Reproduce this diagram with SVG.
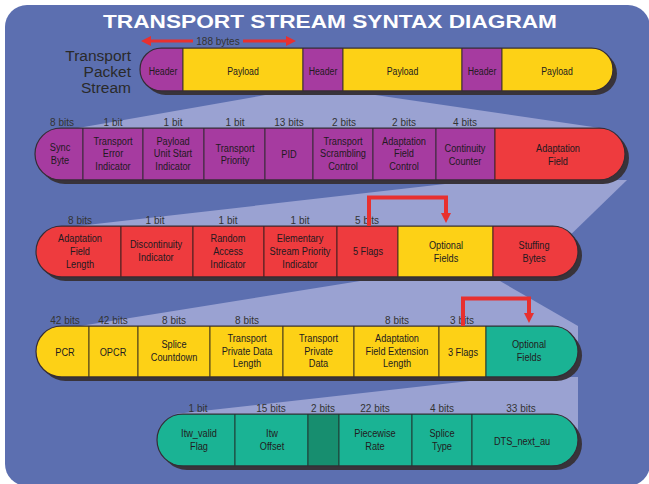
<svg xmlns="http://www.w3.org/2000/svg" width="649" height="484" viewBox="0 0 649 484">
<defs>
<style>
.bg{fill:#5c6fb0}
.fun{fill:#9aa2d2}
.sh{fill:#38333a}
.pu{fill:#a63ba0;stroke:#3a2a3a;stroke-width:1}
.ye{fill:#fdd116;stroke:#4a3f1a;stroke-width:1}
.re{fill:#ee3b3e;stroke:#4a2020;stroke-width:1}
.te{fill:#1ab394;stroke:#1f3f36;stroke-width:1}
.td{fill:#178e6f;stroke:#1f3f36;stroke-width:1}
.ol{fill:none;stroke:#352c35;stroke-width:1.2}
.c{font-family:"Liberation Sans",Arial,sans-serif;font-size:11.5px;fill:#221a20;text-anchor:middle}
.b{font-family:"Liberation Sans",Arial,sans-serif;font-size:10px;fill:#333;text-anchor:middle}
.lbl{font-family:"Liberation Sans",Arial,sans-serif;font-size:15.5px;fill:#2a2a2a;text-anchor:end}
.title{font-family:"Liberation Sans",Arial,sans-serif;font-size:19px;font-weight:bold;fill:#fff}
.ar{fill:none;stroke:#e8302f;stroke-width:4}
.ar3{fill:none;stroke:#e8302f;stroke-width:3}
</style>
<marker id="ah" viewBox="0 0 10 10" refX="0" refY="5" markerWidth="11" markerHeight="10" markerUnits="userSpaceOnUse" orient="auto"><path d="M0,0 L10,5 L0,10 z" fill="#e8302f"/></marker>
<clipPath id="r1"><rect x="140" y="48" width="473" height="43" rx="21.5"/></clipPath>
<clipPath id="r2"><rect x="35" y="128" width="590" height="52" rx="26"/></clipPath>
<clipPath id="r3"><rect x="36" y="226" width="542" height="51" rx="25.5"/></clipPath>
<clipPath id="r4"><rect x="36" y="326" width="542" height="51" rx="25.5"/></clipPath>
<clipPath id="r5"><rect x="157" y="414" width="421" height="52" rx="26"/></clipPath>
</defs>

<rect class="bg" x="5" y="5" width="645" height="481" rx="22"/>

<g id="funnels">
<polygon class="fun" points="288,91 348,91 600,128 78,128"/>
<polygon class="fun" points="480,180 627,180 560,245 78,226"/>
<polygon class="fun" points="385,277 493,277 578,326 578,350 80,326"/>
<polygon class="fun" points="505,377 578,377 578,440 175,414"/>
</g>

<text class="title" x="103" y="28" textLength="454" lengthAdjust="spacingAndGlyphs">TRANSPORT STREAM SYNTAX DIAGRAM</text>

<g id="stream-label">
<text class="lbl"><tspan x="131" y="61">Transport</tspan><tspan x="131" y="77">Packet</tspan><tspan x="131" y="92.5">Stream</tspan></text>
</g>

<!-- Row 1 -->
<g id="row1">
<rect class="sh" x="144" y="52" width="473" height="43" rx="21.5"/>
<g clip-path="url(#r1)">
<g id="r1-header1"><rect class="pu" x="130" y="48" width="53" height="43"/><text class="c" transform="translate(163 0) scale(.76 1)" x="0" y="75">Header</text></g>
<g id="r1-payload1"><rect class="ye" x="183" y="48" width="120" height="43"/><text class="c" transform="translate(243 0) scale(.76 1)" x="0" y="75">Payload</text></g>
<g id="r1-header2"><rect class="pu" x="303" y="48" width="40" height="43"/><text class="c" transform="translate(323 0) scale(.76 1)" x="0" y="75">Header</text></g>
<g id="r1-payload2"><rect class="ye" x="343" y="48" width="119" height="43"/><text class="c" transform="translate(402.5 0) scale(.76 1)" x="0" y="75">Payload</text></g>
<g id="r1-header3"><rect class="pu" x="462" y="48" width="40" height="43"/><text class="c" transform="translate(482 0) scale(.76 1)" x="0" y="75">Header</text></g>
<g id="r1-payload3"><rect class="ye" x="502" y="48" width="121" height="43"/><text class="c" transform="translate(557 0) scale(.76 1)" x="0" y="75">Payload</text></g>
</g>
<rect class="ol" x="140" y="48" width="473" height="43" rx="21.5"/>
</g>

<!-- Row 2 -->
<g id="row2">
<rect class="sh" x="39" y="132" width="590" height="52" rx="26"/>
<g clip-path="url(#r2)">
<g id="sync-byte"><rect class="pu" x="25" y="128" width="58" height="52"/><text class="c" transform="translate(60 0) scale(.8 1)"><tspan x="0" y="151">Sync</tspan><tspan x="0" y="164">Byte</tspan></text></g>
<g id="tei"><rect class="pu" x="83" y="128" width="60" height="52"/><text class="c" transform="translate(113 0) scale(.8 1)"><tspan x="0" y="145">Transport</tspan><tspan x="0" y="157.5">Error</tspan><tspan x="0" y="170">Indicator</tspan></text></g>
<g id="pusi"><rect class="pu" x="143" y="128" width="61" height="52"/><text class="c" transform="translate(173 0) scale(.8 1)"><tspan x="0" y="145">Payload</tspan><tspan x="0" y="157.5">Unit Start</tspan><tspan x="0" y="170">Indicator</tspan></text></g>
<g id="tp"><rect class="pu" x="204" y="128" width="61" height="52"/><text class="c" transform="translate(235 0) scale(.8 1)"><tspan x="0" y="152">Transport</tspan><tspan x="0" y="164.5">Priority</tspan></text></g>
<g id="pid"><rect class="pu" x="265" y="128" width="48" height="52"/><text class="c" transform="translate(289 0) scale(.8 1)" x="0" y="158">PID</text></g>
<g id="tsc"><rect class="pu" x="313" y="128" width="60" height="52"/><text class="c" transform="translate(343 0) scale(.8 1)"><tspan x="0" y="145">Transport</tspan><tspan x="0" y="157.5">Scrambling</tspan><tspan x="0" y="170">Control</tspan></text></g>
<g id="afc"><rect class="pu" x="373" y="128" width="63" height="52"/><text class="c" transform="translate(404 0) scale(.8 1)"><tspan x="0" y="145">Adaptation</tspan><tspan x="0" y="157.5">Field</tspan><tspan x="0" y="170">Control</tspan></text></g>
<g id="cc"><rect class="pu" x="436" y="128" width="59" height="52"/><text class="c" transform="translate(465 0) scale(.8 1)"><tspan x="0" y="152">Continuity</tspan><tspan x="0" y="165">Counter</tspan></text></g>
<g id="adaptation-field"><rect class="re" x="495" y="128" width="140" height="52"/><text class="c" transform="translate(558 0) scale(.8 1)"><tspan x="0" y="152">Adaptation</tspan><tspan x="0" y="165">Field</tspan></text></g>
</g>
<rect class="ol" x="35" y="128" width="590" height="52" rx="26"/>
<text class="b" y="125.5"><tspan x="62">8 bits</tspan><tspan x="113">1 bit</tspan><tspan x="173">1 bit</tspan><tspan x="235">1 bit</tspan><tspan x="289">13 bits</tspan><tspan x="344">2 bits</tspan><tspan x="404">2 bits</tspan><tspan x="465">4 bits</tspan></text>
</g>

<!-- Row 3 -->
<g id="row3">
<rect class="sh" x="40" y="230" width="542" height="51" rx="25.5"/>
<g clip-path="url(#r3)">
<g id="afl"><rect class="re" x="26" y="226" width="95" height="51"/><text class="c" transform="translate(80 0) scale(.8 1)"><tspan x="0" y="242">Adaptation</tspan><tspan x="0" y="255">Field</tspan><tspan x="0" y="268">Length</tspan></text></g>
<g id="di"><rect class="re" x="121" y="226" width="72" height="51"/><text class="c" transform="translate(156 0) scale(.8 1)"><tspan x="0" y="248.5">Discontinuity</tspan><tspan x="0" y="261.5">Indicator</tspan></text></g>
<g id="rai"><rect class="re" x="193" y="226" width="71" height="51"/><text class="c" transform="translate(228 0) scale(.8 1)"><tspan x="0" y="242">Random</tspan><tspan x="0" y="255">Access</tspan><tspan x="0" y="268">Indicator</tspan></text></g>
<g id="espi"><rect class="re" x="264" y="226" width="73" height="51"/><text class="c" transform="translate(300 0) scale(.8 1)"><tspan x="0" y="242">Elementary</tspan><tspan x="0" y="255">Stream Priority</tspan><tspan x="0" y="268">Indicator</tspan></text></g>
<g id="five-flags"><rect class="re" x="337" y="226" width="61" height="51"/><text class="c" transform="translate(368 0) scale(.8 1)" x="0" y="255">5 Flags</text></g>
<g id="optional-fields-1"><rect class="ye" x="398" y="226" width="95" height="51"/><text class="c" transform="translate(446 0) scale(.8 1)"><tspan x="0" y="249.5">Optional</tspan><tspan x="0" y="262">Fields</tspan></text></g>
<g id="stuffing-bytes"><rect class="re" x="493" y="226" width="95" height="51"/><text class="c" transform="translate(534 0) scale(.8 1)"><tspan x="0" y="249">Stuffing</tspan><tspan x="0" y="262">Bytes</tspan></text></g>
</g>
<rect class="ol" x="36" y="226" width="542" height="51" rx="25.5"/>
<text class="b" y="223.5"><tspan x="80">8 bits</tspan><tspan x="155">1 bit</tspan><tspan x="228">1 bit</tspan><tspan x="300">1 bit</tspan><tspan x="367">5 bits</tspan></text>
</g>

<!-- Row 4 -->
<g id="row4">
<rect class="sh" x="40" y="330" width="542" height="51" rx="25.5"/>
<g clip-path="url(#r4)">
<g id="pcr"><rect class="ye" x="26" y="326" width="63" height="51"/><text class="c" transform="translate(65 0) scale(.8 1)" x="0" y="356">PCR</text></g>
<g id="opcr"><rect class="ye" x="89" y="326" width="49" height="51"/><text class="c" transform="translate(113 0) scale(.8 1)" x="0" y="356">OPCR</text></g>
<g id="splice-countdown"><rect class="ye" x="138" y="326" width="72" height="51"/><text class="c" transform="translate(174 0) scale(.8 1)"><tspan x="0" y="348">Splice</tspan><tspan x="0" y="361">Countdown</tspan></text></g>
<g id="tpdl"><rect class="ye" x="210" y="326" width="73" height="51"/><text class="c" transform="translate(247 0) scale(.8 1)"><tspan x="0" y="342">Transport</tspan><tspan x="0" y="355">Private Data</tspan><tspan x="0" y="367.5">Length</tspan></text></g>
<g id="tpd"><rect class="ye" x="283" y="326" width="71" height="51"/><text class="c" transform="translate(318.5 0) scale(.8 1)"><tspan x="0" y="342">Transport</tspan><tspan x="0" y="355">Private</tspan><tspan x="0" y="367.5">Data</tspan></text></g>
<g id="afel"><rect class="ye" x="354" y="326" width="85" height="51"/><text class="c" transform="translate(397 0) scale(.8 1)"><tspan x="0" y="342">Adaptation</tspan><tspan x="0" y="355">Field Extension</tspan><tspan x="0" y="367.5">Length</tspan></text></g>
<g id="three-flags"><rect class="ye" x="439" y="326" width="47" height="51"/><text class="c" transform="translate(463 0) scale(.8 1)" x="0" y="356">3 Flags</text></g>
<g id="optional-fields-2"><rect class="te" x="486" y="326" width="102" height="51"/><text class="c" transform="translate(529 0) scale(.8 1)"><tspan x="0" y="348.5">Optional</tspan><tspan x="0" y="361">Fields</tspan></text></g>
</g>
<rect class="ol" x="36" y="326" width="542" height="51" rx="25.5"/>
<text class="b" y="323.5"><tspan x="65">42 bits</tspan><tspan x="113">42 bits</tspan><tspan x="174">8 bits</tspan><tspan x="247">8 bits</tspan><tspan x="397">8 bits</tspan><tspan x="462">3 bits</tspan></text>
</g>

<!-- Row 5 -->
<g id="row5">
<rect class="sh" x="161" y="418" width="421" height="52" rx="26"/>
<g clip-path="url(#r5)">
<g id="ltw-valid-flag"><rect class="te" x="147" y="414" width="88" height="52"/><text class="c" transform="translate(199 0) scale(.8 1)"><tspan x="0" y="437">Itw_valid</tspan><tspan x="0" y="450">Flag</tspan></text></g>
<g id="ltw-offset"><rect class="te" x="235" y="414" width="73" height="52"/><text class="c" transform="translate(272 0) scale(.8 1)"><tspan x="0" y="437">Itw</tspan><tspan x="0" y="450">Offset</tspan></text></g>
<g id="reserved"><rect class="td" x="308" y="414" width="31" height="52"/></g>
<g id="piecewise-rate"><rect class="te" x="339" y="414" width="73" height="52"/><text class="c" transform="translate(375 0) scale(.8 1)"><tspan x="0" y="437">Piecewise</tspan><tspan x="0" y="450">Rate</tspan></text></g>
<g id="splice-type"><rect class="te" x="412" y="414" width="60" height="52"/><text class="c" transform="translate(442 0) scale(.8 1)"><tspan x="0" y="437">Splice</tspan><tspan x="0" y="450">Type</tspan></text></g>
<g id="dts-next-au"><rect class="te" x="472" y="414" width="116" height="52"/><text class="c" transform="translate(522 0) scale(.8 1)" x="0" y="445">DTS_next_au</text></g>
</g>
<rect class="ol" x="157" y="414" width="421" height="52" rx="26"/>
<text class="b" y="411.5"><tspan x="198">1 bit</tspan><tspan x="271">15 bits</tspan><tspan x="323">2 bits</tspan><tspan x="375">22 bits</tspan><tspan x="442">4 bits</tspan><tspan x="521">33 bits</tspan></text>
</g>

<g id="connectors">
<text class="b" x="218" y="44.5">188 bytes</text>
<path class="ar3" d="M193,41 H151" marker-end="url(#ah)"/>
<path class="ar3" d="M243,41 H286" marker-end="url(#ah)"/>
<path class="ar" d="M369,226 V197.5 H446 V213" marker-end="url(#ah)" stroke-linejoin="miter"/>
<path class="ar" d="M463,326 V298.5 H529 V313" marker-end="url(#ah)" stroke-linejoin="miter"/>
</g>
</svg>
